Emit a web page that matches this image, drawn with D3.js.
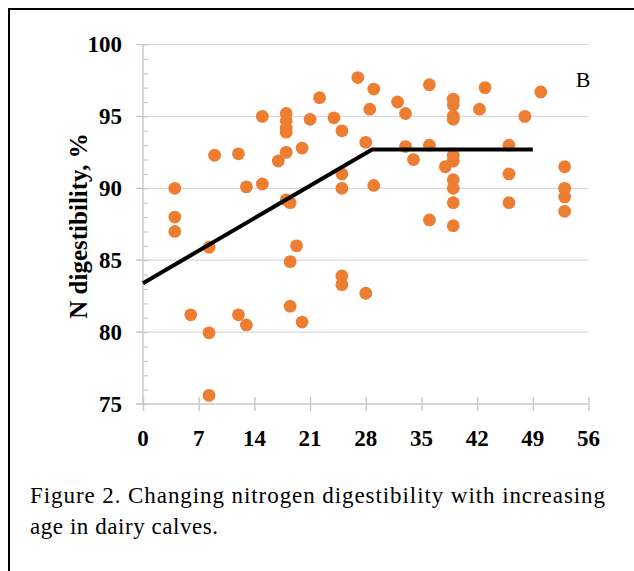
<!DOCTYPE html>
<html>
<head>
<meta charset="utf-8">
<script src="https://cdn.jsdelivr.net/npm/d3@7/dist/d3.min.js"></script>
<style>
  html, body { margin: 0; padding: 0; background: #fff; }
  svg { display: block; }
</style>
</head>
<body>
<svg id="chart" width="634" height="571"></svg>
<script>
// ---- data ----
const ageDays = [4, 4, 4, 6, 8.3, 8.3, 8.3, 9, 12, 12, 13, 13, 15, 15, 17,
  18, 18, 18, 18, 18, 18, 18.5, 18.5, 18.5, 19.3, 20, 20, 21, 22.2, 24,
  25, 25, 25, 25, 25, 27, 28, 28, 28.5, 29, 29, 32, 33, 33, 34, 36, 36, 36, 38,
  39, 39, 39, 39, 39, 39, 39, 39, 39, 39, 42.3, 43, 46, 46, 46, 48, 50,
  53, 53, 53, 53];
const nDigest = [90.0, 88.0, 87.0, 81.2, 85.9, 79.95, 75.6, 92.3, 92.4, 81.2, 90.1, 80.5, 90.3, 95.0, 91.9,
  95.2, 94.7, 94.2, 93.9, 92.5, 89.2, 89.0, 84.9, 81.8, 86.0, 92.8, 80.7, 94.8, 96.3, 94.9,
  94.0, 91.0, 90.0, 83.9, 83.3, 97.7, 93.2, 82.7, 95.5, 96.9, 90.2, 96.0, 95.2, 92.9, 92.0, 97.2, 93.0, 87.8, 91.5,
  96.2, 95.8, 95.0, 94.8, 92.3, 91.9, 90.6, 90.0, 89.0, 87.4, 95.5, 97.0, 93.0, 91.0, 89.0, 95.0, 96.7,
  91.5, 90.0, 89.4, 88.4];
const fitX = [0, 28.8, 49];
const fitY = [83.4, 92.7, 92.7];
const xTicks = [0, 7, 14, 21, 28, 35, 42, 49, 56];
const yTicks = [75, 80, 85, 90, 95, 100];
const yMinor = d3.range(75, 101, 1);
const panelLabel = "B";
const yTitle = "N digestibility, %";
const captionLines = ["Figure 2. Changing nitrogen digestibility with increasing", "age in dairy calves."];
const captionWidths = [575, 188];

// ---- drawing ----
const svg = d3.select("#chart");
const serif = "'Liberation Serif', 'Times New Roman', serif";
const x = d3.scaleLinear().domain([0, 56]).range([143, 588.5]);
const y = d3.scaleLinear().domain([75, 100]).range([404, 44.5]);

svg.append("rect").attr("width", 634).attr("height", 571).attr("fill", "#fff");

// frame (left + top visible)
svg.append("line").attr("x1", 9).attr("x2", 9).attr("y1", 8).attr("y2", 571)
  .attr("stroke", "#000").attr("stroke-width", 2);
svg.append("line").attr("x1", 8).attr("x2", 634).attr("y1", 9).attr("y2", 9)
  .attr("stroke", "#000").attr("stroke-width", 2);

// gridlines
svg.append("g").selectAll("line").data(yTicks.filter(d => d > 75)).join("line")
  .attr("x1", 136).attr("x2", x(56))
  .attr("y1", d => y(d)).attr("y2", d => y(d))
  .attr("stroke", "#d9d9d9").attr("stroke-width", 1.2);

// y axis
const yAxis = svg.append("g").attr("transform", `translate(${x(0)},0)`)
  .call(d3.axisRight(y).tickValues(yMinor).tickSize(5).tickFormat(""));
yAxis.select(".domain").attr("stroke", "#c8c8c8").attr("stroke-width", 1.4)
  .attr("d", `M0,${y(100)}V${y(75)}`);
yAxis.selectAll(".tick line").attr("stroke", "#c8c8c8").attr("stroke-width", 1.2);
// major outside ticks
svg.append("g").selectAll("line").data(yTicks).join("line")
  .attr("x1", 136).attr("x2", x(0)).attr("y1", d => y(d)).attr("y2", d => y(d))
  .attr("stroke", "#c8c8c8").attr("stroke-width", 1.2);

// x axis
const xAxis = svg.append("g").attr("transform", `translate(0,${y(75)})`)
  .call(d3.axisBottom(x).tickValues(xTicks).tickSize(7).tickFormat(""));
xAxis.select(".domain").attr("stroke", "#c8c8c8").attr("stroke-width", 1.4)
  .attr("d", `M136,0H${x(56)}`);
xAxis.selectAll(".tick line").attr("stroke", "#c8c8c8").attr("stroke-width", 1.4)
  .attr("y1", -7).attr("y2", 7);

// tick labels
svg.append("g").selectAll("text").data(yTicks).join("text")
  .attr("x", 122).attr("y", d => y(d)).attr("dy", "0.34em")
  .attr("text-anchor", "end").attr("font-family", serif).attr("font-weight", "bold")
  .attr("font-size", 23).attr("fill", "#000").text(d => d);
svg.append("g").selectAll("text").data(xTicks).join("text")
  .attr("x", d => x(d)).attr("y", 446)
  .attr("text-anchor", "middle").attr("font-family", serif).attr("font-weight", "bold")
  .attr("font-size", 23).attr("fill", "#000").text(d => d);

// y title
svg.append("text").attr("transform", "translate(87,226) rotate(-90)")
  .attr("text-anchor", "middle").attr("font-family", serif).attr("font-weight", "bold")
  .attr("font-size", 25).attr("fill", "#000").text(yTitle);

// points
svg.append("g").selectAll("circle").data(ageDays.map((d, i) => [d, nDigest[i]])).join("circle")
  .attr("cx", d => x(d[0])).attr("cy", d => y(d[1])).attr("r", 6.4)
  .attr("fill", "#ED7D31");

// fitted broken-line
svg.append("path").datum(fitX.map((d, i) => [d, fitY[i]]))
  .attr("d", d3.line().x(d => x(d[0])).y(d => y(d[1])))
  .attr("fill", "none").attr("stroke", "#000").attr("stroke-width", 4);

// panel label
svg.append("text").attr("x", 583).attr("y", 87).attr("text-anchor", "middle")
  .attr("font-family", serif).attr("font-size", 22).attr("fill", "#000").text(panelLabel);

// caption
svg.append("g").selectAll("text").data(captionLines).join("text")
  .attr("x", 30).attr("y", (d, i) => 503 + i * 31)
  .attr("textLength", (d, i) => captionWidths[i]).attr("lengthAdjust", "spacing")
  .attr("font-family", serif).attr("font-size", 23).attr("fill", "#000").text(d => d);
</script>
</body>
</html>
